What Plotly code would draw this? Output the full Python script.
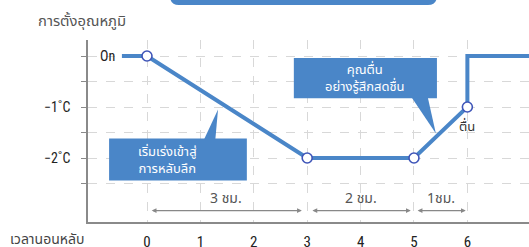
import plotly.graph_objects as go

# ---- data ----
line_hours = [-0.47, 0, 3, 5, 6, 6, 7.3]
line_temps = [0, 0, -2, -2, -1, 0, 0]
point_hours = [0, 3, 5, 6]
point_temps = [0, -2, -2, -1]
x_ticks = [0, 1, 2, 3, 4, 5, 6]
y_ticks = [0, -0.5, -1, -1.5, -2, -2.5]
y_ticktext = ["", "", "−1˚C", "", "−2˚C", ""]
spans = [(0.06, 2.90, "3 ชม."), (3.07, 4.94, "2 ชม."), (5.04, 5.97, "1ชม.")]

BLUE = "#4a86c8"
THAI = "Noto Sans Thai, Noto Sans, DejaVu Sans, sans-serif"
NARROW = "Liberation Sans Narrow, Roboto Condensed, Arial Narrow, sans-serif"

fig = go.Figure()
fig.add_trace(go.Scatter(x=line_hours, y=line_temps, mode="lines",
                         line=dict(color=BLUE, width=4), hoverinfo="skip"))
fig.add_trace(go.Scatter(x=point_hours, y=point_temps, mode="markers",
                         marker=dict(symbol="circle", size=10, color="white",
                                     line=dict(color="#3f55b8", width=1.6)),
                         hoverinfo="skip"))

shapes = []
# callout box 1
shapes.append(dict(type="rect", xref="x", yref="y", x0=-0.71, x1=1.87, y0=-2.44, y1=-1.62,
                   fillcolor=BLUE, line=dict(width=0), layer="above"))
shapes.append(dict(type="path", xref="x", yref="y",
                   path="M 1.07,-1.63 L 1.28,-1.63 L 1.33,-1.05 Z",
                   fillcolor=BLUE, line=dict(width=0), layer="above"))
# callout box 2
shapes.append(dict(type="rect", xref="x", yref="y", x0=2.75, x1=5.43, y0=-0.83, y1=-0.04,
                   fillcolor=BLUE, line=dict(width=0), layer="above"))
shapes.append(dict(type="path", xref="x", yref="y",
                   path="M 4.96,-0.82 L 5.26,-0.82 L 5.41,-1.52 Z",
                   fillcolor=BLUE, line=dict(width=0), layer="above"))
# top banner (cut off)
x0, x1, yb, yt, dx, dy = 0.186, 0.791, 1.192, 1.3, 0.02, 0.05
shapes.append(dict(type="path", xref="paper", yref="paper",
                   path=f"M {x0},{yt} L {x0},{yb+dy} Q {x0},{yb} {x0+dx},{yb} L {x1-dx},{yb} Q {x1},{yb} {x1},{yb+dy} L {x1},{yt} Z",
                   fillcolor=BLUE, line=dict(width=0)))

annotations = []
annotations.append(dict(x=0.39, y=-2.04, xref="x", yref="y", showarrow=False,
                        text="เริ่มเร่งเข้าสู่<br>การหลับลึก", align="center",
                        font=dict(family=THAI, size=13, color="white")))
annotations.append(dict(x=4.09, y=-0.44, xref="x", yref="y", showarrow=False,
                        text="คุณตื่น<br>อย่างรู้สึกสดชื่น", align="center",
                        font=dict(family=THAI, size=13, color="white")))
annotations.append(dict(x=-0.56, y=0, xref="x", yref="y", showarrow=False, xanchor="right",
                        text="On", font=dict(family=NARROW, size=14, color="#222")))
annotations.append(dict(x=6.0, y=-1.39, xref="x", yref="y", showarrow=False, xanchor="center",
                        text="ตื่น", font=dict(family=THAI, size=13, color="#333")))
annotations.append(dict(x=-0.118, y=1.10, xref="paper", yref="paper", showarrow=False,
                        xanchor="left", yanchor="middle", text="การตั้งอุณหภูมิ",
                        font=dict(family=THAI, size=14.8, color="#555")))
annotations.append(dict(x=-0.181, y=-0.094, xref="paper", yref="paper", showarrow=False,
                        xanchor="left", yanchor="middle", text="เวลานอนหลับ",
                        font=dict(family=THAI, size=14, color="#444")))
for a, b, label in spans:
    annotations.append(dict(x=b, y=-3.03, ax=a, ay=-3.03, xref="x", yref="y",
                            axref="x", ayref="y", text="", showarrow=True,
                            arrowhead=2, arrowside="end+start", arrowsize=0.8,
                            arrowwidth=1.2, arrowcolor="#888"))
    annotations.append(dict(x=(a + b) / 2, y=-2.80, xref="x", yref="y", showarrow=False,
                            text=label, font=dict(family=THAI, size=14, color="#555")))

fig.update_layout(
    width=529, height=247,
    margin=dict(l=88, r=0, t=40, b=25),
    paper_bgcolor="white", plot_bgcolor="white",
    showlegend=False,
    shapes=shapes, annotations=annotations,
    xaxis=dict(range=[-1.105, 7.154], tickvals=x_ticks, ticktext=[str(v) for v in x_ticks],
               showgrid=True, gridcolor="#d8d8d8", griddash="dash", gridwidth=1,
               zeroline=False, showline=True, linecolor="#8a8a8a", linewidth=1.5,
               ticks="", ticklabelstandoff=5, automargin=False,
               tickfont=dict(family=NARROW, size=15, color="#222")),
    yaxis=dict(range=[-3.255, 0.314], tickvals=y_ticks, ticktext=y_ticktext,
               showgrid=True, gridcolor="#d8d8d8", griddash="dash", gridwidth=1,
               zeroline=False, showline=True, linecolor="#8a8a8a", linewidth=1.5,
               ticks="outside", ticklen=5, tickcolor="#8a8a8a", tickwidth=1.2,
               ticklabelstandoff=8, automargin=False,
               tickfont=dict(family=NARROW, size=14, color="#222")),
)

fig.write_html("out.html", config={"displayModeBar": False},
               post_script="document.body.style.margin='0';")
